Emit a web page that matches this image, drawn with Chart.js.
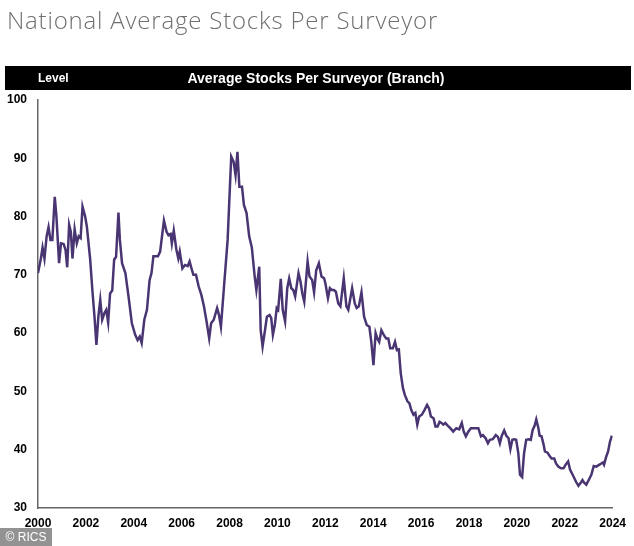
<!DOCTYPE html>
<html>
<meta charset="UTF-8">
<title>National Average Stocks Per Surveyor</title>
<script src="https://cdn.jsdelivr.net/npm/chart.js"></script>
<style type="text/css">
	html,
	body {
		margin: 0px;
		width: 634px;
		height: 546px;
		background: #fff;
		overflow: hidden;
	}

	#chart {
		position: absolute;
		left: 0;
		top: 0;
	}

	.title {
		position: absolute;
		left: 7px;
		top: 3px;
		font-family: "Open Sans", sans-serif;
		font-weight: 300;
		font-size: 24px;
		letter-spacing: 0.8px;
		color: #707070;
		white-space: nowrap;
	}

	.bar {
		position: absolute;
		left: 5px;
		top: 66px;
		width: 626px;
		height: 24px;
		background: #000;
		color: #fff;
		font-family: "Liberation Sans", Arial, sans-serif;
		font-weight: bold;
		font-size: 14px;
		line-height: 24px;
	}

	.bar .level {
		position: absolute;
		left: 33px;
		font-size: 12px;
	}

	.bar .head {
		position: absolute;
		left: 0;
		width: 626px;
		text-align: center;
		margin-left: -2px;
	}

	.rics {
		position: absolute;
		left: 0;
		top: 528px;
		width: 52px;
		height: 18px;
		background: rgba(110, 110, 110, 0.75);
		color: #fff;
		font-family: "Liberation Sans", Arial, sans-serif;
		font-size: 12px;
		line-height: 18px;
		text-align: center;
	}
</style>

<body>
	<canvas id="chart" width="634" height="546"></canvas>
	<div class="title">National Average Stocks Per Surveyor</div>
	<div class="bar"><span class="level">Level</span><span class="head">Average Stocks Per Surveyor (Branch)</span></div>
	<div class="rics">© RICS</div>

	<script>
		// values (decimal year, level)
		var years = [
			2000.00, 2000.12, 2000.19, 2000.27, 2000.36, 2000.44, 2000.52, 2000.60, 2000.70, 2000.77,
			2000.88, 2000.96, 2001.07, 2001.15, 2001.22, 2001.30, 2001.37, 2001.44, 2001.53, 2001.62,
			2001.70, 2001.78, 2001.86, 2001.97, 2002.04, 2002.18, 2002.27, 2002.36, 2002.44, 2002.52,
			2002.60, 2002.68, 2002.77, 2002.85, 2002.93, 2003.01, 2003.10, 2003.18, 2003.26, 2003.36,
			2003.42, 2003.51, 2003.65, 2003.78, 2003.92, 2004.06, 2004.16, 2004.25, 2004.33, 2004.44,
			2004.55, 2004.66, 2004.74, 2004.82, 2005.01, 2005.10, 2005.26, 2005.37, 2005.45, 2005.54,
			2005.59, 2005.67, 2005.78, 2005.86, 2005.92, 2006.03, 2006.14, 2006.25, 2006.33, 2006.41,
			2006.49, 2006.60, 2006.71, 2006.82, 2006.93, 2007.04, 2007.15, 2007.23, 2007.34, 2007.48,
			2007.56, 2007.64, 2007.78, 2007.92, 2008.07, 2008.17, 2008.25, 2008.33, 2008.41, 2008.52,
			2008.60, 2008.71, 2008.82, 2008.93, 2009.05, 2009.12, 2009.24, 2009.30, 2009.38, 2009.48,
			2009.56, 2009.67, 2009.74, 2009.81, 2009.89, 2009.97, 2010.03, 2010.14, 2010.22, 2010.32,
			2010.41, 2010.49, 2010.58, 2010.66, 2010.74, 2010.88, 2010.96, 2011.04, 2011.12, 2011.26,
			2011.34, 2011.45, 2011.53, 2011.62, 2011.73, 2011.84, 2011.95, 2012.00, 2012.11, 2012.19,
			2012.27, 2012.36, 2012.44, 2012.54, 2012.63, 2012.77, 2012.88, 2012.96, 2013.12, 2013.23,
			2013.31, 2013.40, 2013.51, 2013.62, 2013.73, 2013.84, 2013.92, 2014.01, 2014.10, 2014.17,
			2014.25, 2014.34, 2014.44, 2014.54, 2014.63, 2014.71, 2014.82, 2014.91, 2014.99, 2015.07,
			2015.15, 2015.24, 2015.32, 2015.43, 2015.51, 2015.59, 2015.68, 2015.76, 2015.84, 2015.92,
			2016.03, 2016.14, 2016.25, 2016.33, 2016.41, 2016.52, 2016.60, 2016.69, 2016.77, 2016.85,
			2016.93, 2017.01, 2017.12, 2017.22, 2017.34, 2017.47, 2017.59, 2017.70, 2017.78, 2017.87,
			2017.97, 2018.08, 2018.19, 2018.28, 2018.39, 2018.50, 2018.58, 2018.69, 2018.79, 2018.87,
			2018.99, 2019.12, 2019.21, 2019.29, 2019.37, 2019.47, 2019.56, 2019.65, 2019.73, 2019.81,
			2019.89, 2019.97, 2020.06, 2020.13, 2020.22, 2020.30, 2020.39, 2020.50, 2020.58, 2020.66,
			2020.74, 2020.81, 2020.90, 2020.95, 2021.03, 2021.12, 2021.17, 2021.28, 2021.37, 2021.45,
			2021.56, 2021.64, 2021.73, 2021.84, 2021.95, 2022.03, 2022.14, 2022.22, 2022.33, 2022.47,
			2022.57, 2022.66, 2022.74, 2022.80, 2022.90, 2023.00, 2023.11, 2023.21, 2023.32, 2023.43,
			2023.51, 2023.59, 2023.64, 2023.73, 2023.81, 2023.89, 2023.97
		];

		var stocks = [
			70.3, 72.8, 74.7, 72.8, 76.6, 78.2, 76.0, 76.0, 83.4, 80.0,
			72.0, 75.4, 75.3, 74.3, 71.3, 78.6, 77.4, 72.8, 77.8, 75.4,
			76.6, 76.3, 81.7, 80.0, 78.3, 72.6, 67.4, 62.8, 58.0, 62.8,
			65.7, 62.3, 63.4, 64.0, 61.8, 66.8, 67.3, 72.6, 73.1, 80.7,
			76.0, 72.0, 70.3, 66.3, 61.7, 59.7, 58.8, 59.4, 58.3, 62.3,
			64.0, 69.1, 70.3, 73.2, 73.2, 74.0, 79.3, 77.4, 76.8, 77.0,
			75.4, 77.6, 74.3, 72.8, 74.0, 71.1, 71.7, 71.5, 72.3, 71.1,
			70.0, 70.0, 68.0, 66.6, 64.6, 62.0, 59.1, 61.7, 62.3, 64.3,
			63.1, 61.1, 68.6, 76.0, 90.3, 89.4, 87.1, 91.1, 85.1, 85.1,
			82.0, 80.6, 76.6, 74.7, 69.7, 67.4, 71.4, 60.5, 57.7, 60.5,
			62.8, 63.1, 62.6, 59.7, 61.4, 64.3, 64.0, 69.3, 64.0, 62.0,
			67.7, 69.4, 67.7, 67.4, 66.3, 70.3, 68.9, 66.8, 65.4, 72.3,
			69.7, 69.1, 67.0, 70.8, 72.0, 69.7, 69.4, 68.6, 66.0, 67.7,
			67.4, 67.4, 67.1, 65.1, 64.6, 69.4, 64.6, 64.0, 67.7, 65.1,
			64.3, 64.6, 67.0, 62.8, 61.4, 61.1, 58.5, 54.5, 60.0, 59.1,
			58.5, 60.5, 59.7, 59.1, 59.1, 57.4, 57.4, 58.5, 57.1, 57.2,
			53.1, 50.6, 49.4, 48.3, 48.0, 46.8, 46.0, 46.3, 44.3, 45.7,
			46.0, 46.8, 47.7, 47.1, 45.7, 45.4, 44.0, 44.0, 44.8, 44.6,
			44.3, 44.6, 44.1, 43.7, 43.1, 43.7, 43.5, 44.6, 43.1, 42.3,
			43.1, 43.7, 43.7, 43.7, 43.7, 42.3, 42.5, 42.0, 41.1, 41.7,
			41.8, 42.5, 42.2, 41.1, 42.4, 43.3, 42.4, 42.0, 40.1, 41.7,
			41.8, 41.7, 39.4, 35.7, 35.3, 39.4, 41.7, 41.8, 41.7, 43.4,
			44.1, 45.2, 43.7, 42.4, 42.3, 40.8, 39.7, 39.5, 38.9, 38.5,
			38.5, 37.6, 37.1, 36.8, 36.8, 37.4, 38.0, 36.6, 35.7, 34.5,
			33.8, 34.3, 34.8, 34.4, 34.0, 34.8, 35.7, 37.2, 37.1, 37.4,
			37.6, 37.8, 37.4, 38.8, 39.7, 41.4, 42.4
		];

		var xTicks = [2000, 2002, 2004, 2006, 2008, 2010, 2012, 2014, 2016, 2018, 2020, 2022, 2024];
		var yTicks = [30, 40, 50, 60, 70, 80, 90, 100];

		var points = years.map(function (y, i) {
			return { x: y, y: stocks[i] };
		});

		var tickFont = { family: 'Liberation Sans, Arial, sans-serif', size: 12, weight: 'bold' };

		var config = {
			type: 'line',
			data: {
				datasets: [{
					data: points,
					borderColor: '#4a3573',
					borderWidth: 2.5,
					pointRadius: 0,
					tension: 0,
					fill: false
				}]
			},
			options: {
				responsive: false,
				animation: false,
				devicePixelRatio: 1,
				layout: {
					padding: { top: 100, right: 12, bottom: 0, left: 0 }
				},
				plugins: {
					legend: { display: false },
					tooltip: { enabled: false }
				},
				scales: {
					x: {
						type: 'linear',
						min: 2000,
						max: 2024,
						afterBuildTicks: function (scale) {
							scale.ticks = xTicks.map(function (v) { return { value: v }; });
						},
						afterFit: function (scale) {
							scale.height = 38;
						},
						grid: { display: false, drawTicks: false },
						border: { display: true, color: '#666', width: 1.5 },
						ticks: {
							color: '#000',
							font: tickFont,
							padding: 8,
							maxRotation: 0,
							autoSkip: false,
							callback: function (v) { return String(v); }
						}
					},
					y: {
						min: 30,
						max: 100,
						afterBuildTicks: function (scale) {
							scale.ticks = yTicks.map(function (v) { return { value: v }; });
						},
						afterFit: function (scale) {
							scale.width = 38;
						},
						grid: { display: false, drawTicks: false },
						border: { display: true, color: '#666', width: 1.5 },
						ticks: {
							color: '#000',
							font: tickFont,
							padding: 11,
							callback: function (v) { return String(v); }
						}
					}
				}
			}
		};

		var myChart = new Chart(document.getElementById('chart'), config);
	</script>
</body>

</html>
